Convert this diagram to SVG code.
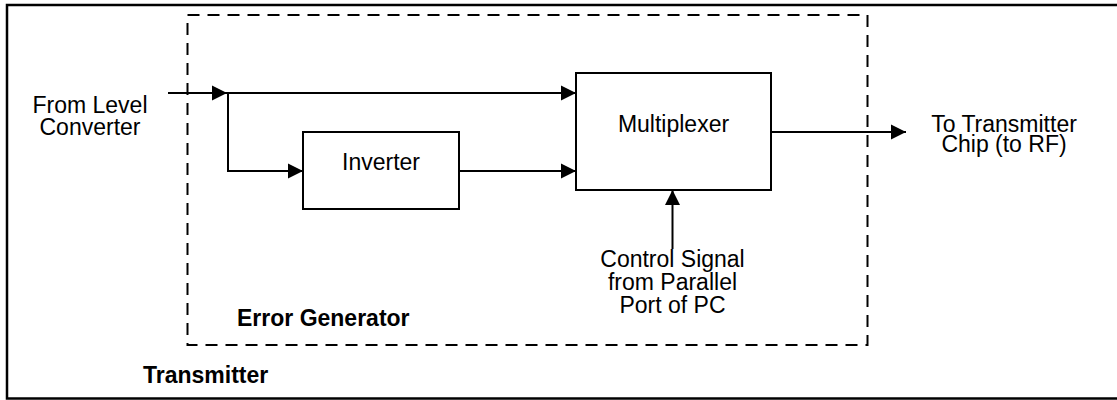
<svg xmlns="http://www.w3.org/2000/svg" width="1117" height="400" viewBox="0 0 1117 400">
  <style>
    .lbl { font-family: "Liberation Sans", Arial, Helvetica, sans-serif; font-size: 23px; fill: #000; text-anchor: middle; }
    .title { font-family: "Liberation Sans", Arial, Helvetica, sans-serif; font-size: 23px; font-weight: bold; fill: #000; }
    .box { fill: #fff; stroke: #000; stroke-width: 2; }
    .wire { fill: none; stroke: #000; stroke-width: 2; }
  </style>
  <defs>
    <marker id="arrow" markerUnits="userSpaceOnUse" markerWidth="16" markerHeight="16" viewBox="0 0 16 16" refX="15" refY="8" orient="auto">
      <path d="M0,0.5 L15,8 L0,15.5 Z" fill="#000"/>
    </marker>
  </defs>
  <rect width="1117" height="400" fill="#fff"/>

  <!-- outer frame: Transmitter -->
  <g id="transmitter">
    <rect x="7" y="5" width="1120" height="393.5" fill="none" stroke="#000" stroke-width="2.5"/>
    <text class="title" x="143" y="383">Transmitter</text>
  </g>

  <!-- dashed frame: Error Generator -->
  <g id="error-generator">
    <rect x="187.5" y="15" width="680" height="330" fill="none" stroke="#000" stroke-width="2" stroke-dasharray="12 8"/>
    <text class="title" x="237" y="326">Error Generator</text>
  </g>

  <g id="inverter">
    <rect class="box" x="303" y="132" width="156" height="77"/>
    <text class="lbl" x="381" y="170">Inverter</text>
  </g>

  <g id="multiplexer">
    <rect class="box" x="576" y="73" width="195" height="117"/>
    <text class="lbl" x="673.5" y="132">Multiplexer</text>
  </g>

  <g id="input-label">
    <text class="lbl" x="90" y="113">From Level</text>
    <text class="lbl" x="90" y="134.5">Converter</text>
  </g>

  <g id="output-label">
    <text class="lbl" x="1004" y="131.5">To Transmitter</text>
    <text class="lbl" x="1004" y="152">Chip (to RF)</text>
  </g>

  <g id="control-label">
    <text class="lbl" x="672.5" y="267">Control Signal</text>
    <text class="lbl" x="672.5" y="290">from Parallel</text>
    <text class="lbl" x="672.5" y="313">Port of PC</text>
  </g>

  <g id="connectors">
    <line class="wire" x1="168" y1="93" x2="227" y2="93" marker-end="url(#arrow)"/>
    <line class="wire" x1="227" y1="93" x2="576" y2="93" marker-end="url(#arrow)"/>
    <polyline class="wire" points="228,93 228,171 303,171" marker-end="url(#arrow)"/>
    <line class="wire" x1="459" y1="171" x2="576" y2="171" marker-end="url(#arrow)"/>
    <line class="wire" x1="771" y1="132" x2="906" y2="132" marker-end="url(#arrow)"/>
    <line class="wire" x1="672.5" y1="249" x2="672.5" y2="190" marker-end="url(#arrow)"/>
  </g>
</svg>
